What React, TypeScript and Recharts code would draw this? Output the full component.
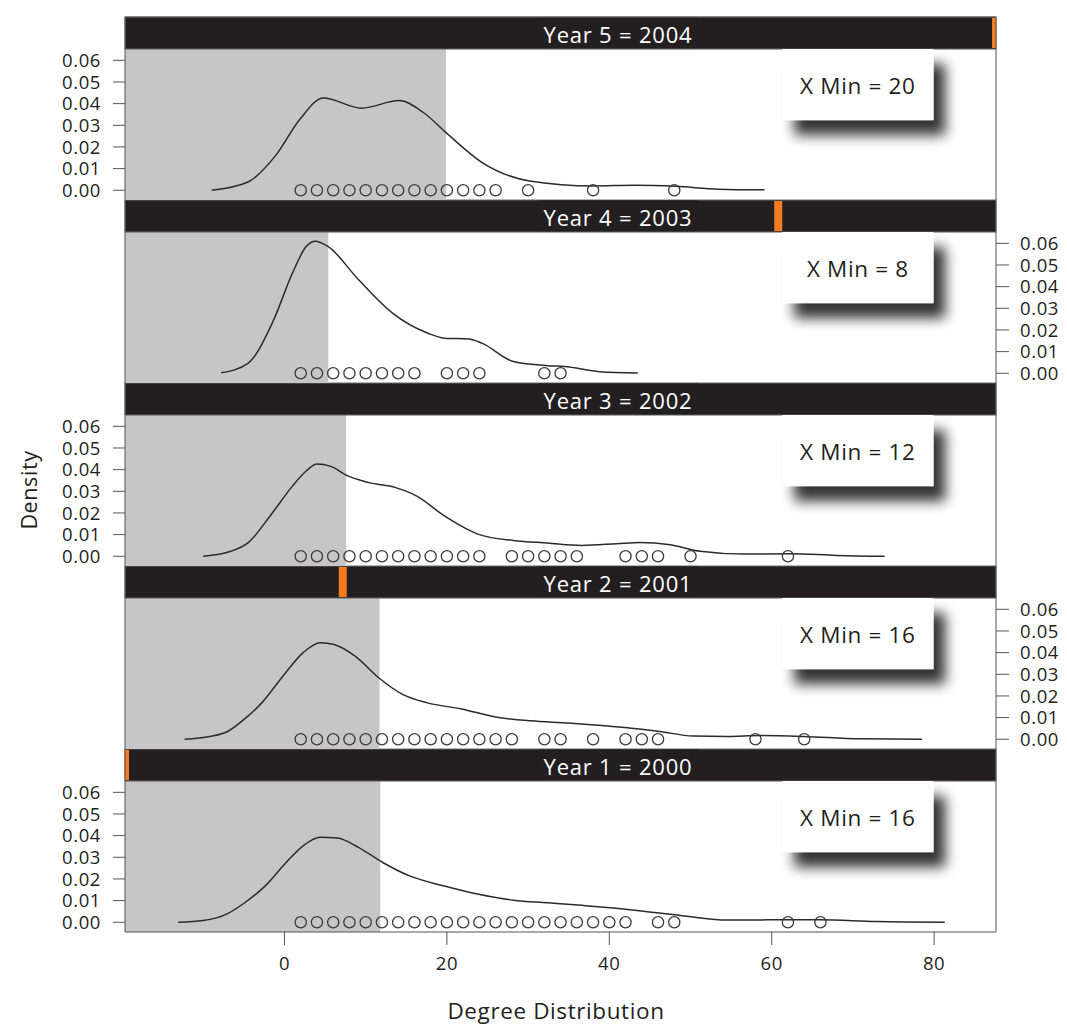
import React from 'react';
import { ComposedChart, Line, Scatter, XAxis, YAxis, ReferenceArea } from 'recharts';

// ---------- data ----------
const years = [2000, 2001, 2002, 2003, 2004];
const stripLabels = ['Year 1 = 2000', 'Year 2 = 2001', 'Year 3 = 2002', 'Year 4 = 2003', 'Year 5 = 2004'];
const xMinValues = [16, 16, 12, 8, 20];
const shadedUpTo = [11.8, 11.7, 7.6, 5.4, 19.9];

const curve2000: [number, number][] = [
  [-13.1, 0], [-10, 0.0008], [-7, 0.004], [-4.9, 0.009], [-2.4, 0.0167], [0.2, 0.0276], [2.3, 0.0353],
  [4.4, 0.0392], [6.5, 0.0389], [9.1, 0.0346], [12.1, 0.0276], [15.4, 0.0214], [19.7, 0.0167],
  [23.9, 0.0129], [28.2, 0.0102], [32.4, 0.009], [36.6, 0.0078], [40.1, 0.0067], [44.2, 0.0051],
  [49.5, 0.0028], [54.5, 0.001], [59.4, 0.0011], [65.9, 0.0011], [72.9, 0.0003], [81.3, 0],
];
const curve2001: [number, number][] = [
  [-12.3, 0], [-9.2, 0.0013], [-7, 0.0036], [-4.9, 0.0094], [-2.8, 0.0168], [-0.2, 0.0291], [2.3, 0.04],
  [4.4, 0.0446], [6.1, 0.0438], [8.7, 0.0384], [11.6, 0.0284], [14.6, 0.0206], [17.6, 0.0168],
  [21.8, 0.014], [26, 0.0103], [30.3, 0.0085], [35, 0.0075], [40.1, 0.006], [43, 0.005], [46.2, 0.0036],
  [50.3, 0.0015], [54.5, 0.0013], [58.6, 0.0017], [63.9, 0.0013], [70.9, 0.0002], [78.5, 0],
];
const curve2002: [number, number][] = [
  [-10, 0], [-6.6, 0.0023], [-4.5, 0.0062], [-1.5, 0.02], [1, 0.0325], [2.7, 0.0395], [4, 0.0426],
  [5.7, 0.0415], [7.8, 0.0371], [10.4, 0.034], [13.7, 0.0317], [16.3, 0.0278], [19.7, 0.0186],
  [23.9, 0.0101], [28.2, 0.0073], [32.4, 0.0061], [36.6, 0.005], [40.9, 0.0058], [43.8, 0.0064],
  [47.5, 0.0053], [51.2, 0.0023], [56.5, 0.001], [62.3, 0.0012], [68, 0.0004], [73.9, 0],
];
const curve2003: [number, number][] = [
  [-7.8, 0.0002], [-4.5, 0.0046], [-1.5, 0.0232], [1, 0.0464], [2.7, 0.0587], [3.8, 0.061], [5.3, 0.0587],
  [9.1, 0.0433], [13.3, 0.0278], [17.6, 0.0186], [19.7, 0.0162], [22.7, 0.0158], [24.3, 0.0139],
  [28.2, 0.0054], [32.4, 0.0035], [34.5, 0.0031], [38.8, 0.0007], [43.5, 0.0001],
];
const curve2004: [number, number][] = [
  [-8.95, 0], [-4.5, 0.0038], [-1.1, 0.016], [1.9, 0.0328], [4.8, 0.0426], [9.5, 0.0379], [14.1, 0.0414],
  [17.1, 0.0359], [20.1, 0.0259], [24.3, 0.0129], [30.2, 0.0043], [38, 0.002], [43.1, 0.0023],
  [48.2, 0.0018], [53.4, 0.0005], [59.1, 0.0002],
];

const degrees2000 = [2, 4, 6, 8, 10, 12, 14, 16, 18, 20, 22, 24, 26, 28, 30, 32, 34, 36, 38, 40, 42, 46, 48, 62, 66];
const degrees2001 = [2, 4, 6, 8, 10, 12, 14, 16, 18, 20, 22, 24, 26, 28, 32, 34, 38, 42, 44, 46, 58, 64];
const degrees2002 = [2, 4, 6, 8, 10, 12, 14, 16, 18, 20, 22, 24, 28, 30, 32, 34, 36, 42, 44, 46, 50, 62];
const degrees2003 = [2, 4, 6, 8, 10, 12, 14, 16, 20, 22, 24, 32, 34];
const degrees2004 = [2, 4, 6, 8, 10, 12, 14, 16, 18, 20, 22, 24, 26, 30, 38, 48];

const xTicks = [0, 20, 40, 60, 80];
const yTicks = [0, 0.01, 0.02, 0.03, 0.04, 0.05, 0.06];

const curves = [curve2000, curve2001, curve2002, curve2003, curve2004];
const degreeSets = [degrees2000, degrees2001, degrees2002, degrees2003, degrees2004];

// ---------- layout ----------
const FONT = "'Open Sans', 'Noto Sans', sans-serif";
const INK = '#231f20';
const AXIS = '#555555';
const X_DOMAIN: [number, number] = [-19.64, 87.62];
const Y_MIN = -0.0045;
const Y_MAX = 0.08;
const STRIP_BOTTOM = 0.0652;
const BOX_BOTTOM = 0.0324;
const BOX_X: [number, number] = [61.3, 79.9];
const STRIP_TEXT_AT = 0.566;
const ROW_H = 183;
const FIRST_TOP = 17;
const PAD_TOP = 30;
const PAD_BOTTOM = 70;
const CHART_W = 1067;
const PLOT_LEFT = 125;
const PLOT_RIGHT = 996;
const Y_AXIS_W = 60;
const TOP_AXIS_H = 13;
const BOTTOM_AXIS_H = 55;

const Circle = (p: any) => (
  <circle cx={p.cx} cy={p.cy} r={5.6} fill="none" stroke="#3a3a3a" strokeWidth={1.3} />
);

function StripShape(props: any) {
  const { x, y, width, height, label, frac } = props;
  const cx = x + frac * width;
  const l = Math.max(x, cx - 4);
  const r = Math.min(x + width, cx + 4);
  const tx = x + width * STRIP_TEXT_AT;
  return (
    <g>
      <rect x={x} y={y} width={width} height={height} fill={INK} stroke="#6b6b6b" strokeWidth={1} />
      <rect x={l} y={y + 1} width={r - l} height={height - 2} fill="#f47b20" />
      <rect x={tx - 80} y={y + 0.5} width={160} height={height - 1.5} fill={INK} />
      <text x={tx} y={y + height / 2 + 1} textAnchor="middle" dominantBaseline="central"
        fill="#ffffff" fontSize={22} letterSpacing={0.8} fontFamily={FONT}>{label}</text>
    </g>
  );
}

function BoxShape(props: any) {
  const { x, y, width, height, text, id } = props;
  return (
    <g>
      <defs>
        <filter id={id} x="-40%" y="-40%" width="200%" height="220%">
          <feDropShadow dx={12} dy={15} stdDeviation={6.5} floodColor="#000" floodOpacity={0.8} />
        </filter>
      </defs>
      <rect x={x} y={y} width={width} height={height} fill="#ffffff" filter={`url(#${id})`} />
      <rect x={x} y={y} width={width} height={height} fill="#ffffff" />
      <text x={x + width / 2} y={y + height / 2 + 1} textAnchor="middle" dominantBaseline="central"
        fill={INK} fontSize={22.5} letterSpacing={0.65} fontFamily={FONT}>{text}</text>
    </g>
  );
}

function Panel({ idx }: { idx: number }) {
  const row = 4 - idx;
  const isTop = row === 0;
  const isBottom = row === 4;
  const leftLabels = row % 2 === 0;
  const top = FIRST_TOP + row * ROW_H - PAD_TOP;
  const height = PAD_TOP + ROW_H + PAD_BOTTOM;
  const margin = {
    top: PAD_TOP - (isTop ? TOP_AXIS_H : 0),
    bottom: PAD_BOTTOM - (isBottom ? BOTTOM_AXIS_H : 0),
    left: PLOT_LEFT - Y_AXIS_W,
    right: CHART_W - PLOT_RIGHT - Y_AXIS_W,
  };
  const curveData = curves[idx].map(([x, y]) => ({ x, y }));
  const circleData = degreeSets[idx].map((d) => ({ x: d, y: 0 }));
  const tickStyle = { fontSize: 18.5, fill: INK, fontFamily: FONT, letterSpacing: 0.6 };
  const fmt = (v: number) => v.toFixed(2);

  return (
    <div style={{ position: 'absolute', left: 0, top, width: CHART_W, height }}>
      <ComposedChart width={CHART_W} height={height} margin={margin}>
        <XAxis xAxisId="b" type="number" dataKey="x" domain={X_DOMAIN} ticks={xTicks} allowDataOverflow
          interval={0} orientation="bottom" hide={!isBottom} height={BOTTOM_AXIS_H} tickSize={13} tickMargin={12}
          stroke={AXIS} tick={tickStyle} />
        {isTop && (
          <XAxis xAxisId="t" type="number" domain={X_DOMAIN} ticks={xTicks} allowDataOverflow interval={0}
            orientation="top" height={TOP_AXIS_H} tickSize={13} tick={false} stroke={AXIS} />
        )}
        <YAxis yAxisId="l" type="number" dataKey="y" domain={[Y_MIN, Y_MAX]} ticks={yTicks} allowDataOverflow
          interval={0} width={Y_AXIS_W} tickSize={12} tickMargin={12} stroke={AXIS}
          tick={leftLabels ? tickStyle : false} tickFormatter={fmt} />
        <YAxis yAxisId="r" type="number" orientation="right" domain={[Y_MIN, Y_MAX]} ticks={yTicks} allowDataOverflow
          interval={0} width={Y_AXIS_W} tickSize={13} tickMargin={11} stroke={AXIS}
          tick={leftLabels ? false : tickStyle} tickFormatter={fmt} />
        <ReferenceArea xAxisId="b" yAxisId="l" x1={X_DOMAIN[0]} x2={shadedUpTo[idx]} y1={Y_MIN} y2={STRIP_BOTTOM}
          fill="#c6c6c6" fillOpacity={1} stroke="none" ifOverflow="hidden" />
        <Line xAxisId="b" yAxisId="l" data={curveData} dataKey="y" type="monotone" stroke="#2b2b2b"
          strokeWidth={1.5} dot={false} activeDot={false} isAnimationActive={false} />
        <Scatter xAxisId="b" yAxisId="l" data={circleData} dataKey="y" shape={Circle} isAnimationActive={false} />
        <ReferenceArea xAxisId="b" yAxisId="l" x1={X_DOMAIN[0]} x2={X_DOMAIN[1]} y1={STRIP_BOTTOM} y2={Y_MAX}
          ifOverflow="hidden"
          shape={(p: any) => <StripShape {...p} label={stripLabels[idx]} frac={idx / (years.length - 1)} />} />
        <ReferenceArea xAxisId="b" yAxisId="l" x1={BOX_X[0]} x2={BOX_X[1]} y1={BOX_BOTTOM} y2={STRIP_BOTTOM}
          ifOverflow="hidden"
          shape={(p: any) => <BoxShape {...p} text={`X Min = ${xMinValues[idx]}`} id={`shadow${idx}`} />} />
      </ComposedChart>
    </div>
  );
}

export default function App() {
  return (
    <div style={{ position: 'absolute', left: 0, top: 0, width: 1067, height: 1026, background: '#fff', fontFamily: FONT }}>
      {years.map((y, i) => (
        <Panel key={y} idx={i} />
      ))}
      <div style={{ position: 'absolute', left: 28, top: 490, transform: 'translate(-50%, -50%) rotate(-90deg)',
        fontSize: 21.5, letterSpacing: 0.6, color: INK, whiteSpace: 'nowrap' }}>Density</div>
      <div style={{ position: 'absolute', left: 556, top: 1010, transform: 'translate(-50%, -50%)',
        fontSize: 22.5, letterSpacing: 0.6, color: INK, whiteSpace: 'nowrap' }}>Degree Distribution</div>
    </div>
  );
}
